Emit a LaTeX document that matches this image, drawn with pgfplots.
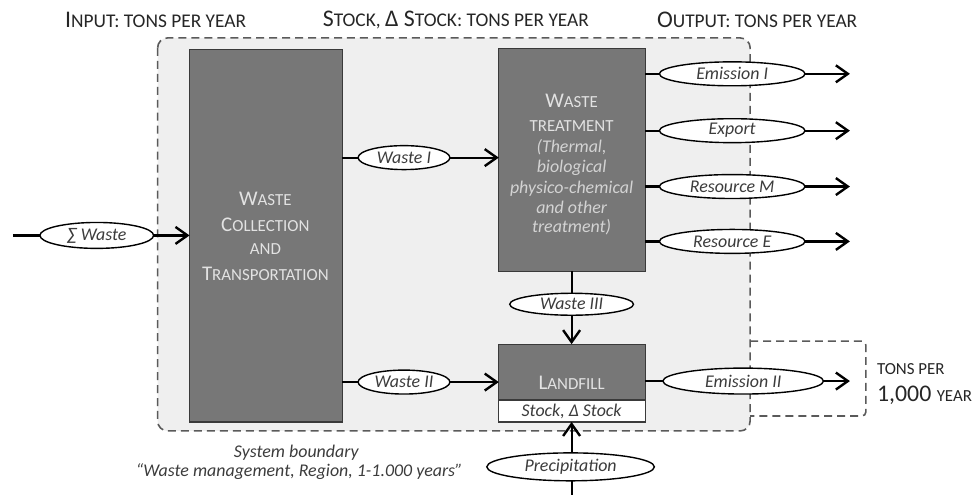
\documentclass[border=0pt]{standalone}
\usepackage{pgfplots}
\pgfplotsset{compat=1.18}
\usepackage{fontspec}
\setmainfont{Carlito}
\usetikzlibrary{arrows.meta,shapes.geometric}
\definecolor{boxfill}{HTML}{777777}
\definecolor{boxedge}{HTML}{3A3A3A}
\definecolor{boxtext}{HTML}{E2E2E2}
\definecolor{bg}{HTML}{EFEFEF}
\definecolor{dashc}{HTML}{5A5A5A}
\definecolor{txt}{HTML}{262626}
\definecolor{etxt}{HTML}{3C3C3C}
\newcommand{\Lg}{\fontsize{24}{27}\selectfont}
\newcommand{\Sm}{\fontsize{19.5}{22}\selectfont}
\newcommand{\bL}{\fontsize{21}{24}\selectfont}
\newcommand{\bS}{\fontsize{17}{20}\selectfont}
\newcommand{\iT}{\fontsize{18}{21}\selectfont\itshape}
\tikzset{
  flow/.style={line width=2.2bp, black},
  arr/.style={line width=2.2bp, black, -{Straight Barb[length=12bp, width=17bp, line width=2.4bp]}},
  oval/.style={ellipse, draw=black, line width=1.4bp, fill=white, inner sep=0pt, text=etxt, font=\iT},
  btxt/.style={text=boxtext, inner sep=0pt},
}
\begin{document}
\begin{tikzpicture}
\begin{axis}[scale only axis, width=972bp, height=496bp,
  xmin=0, xmax=972, ymin=0, ymax=496, y dir=reverse,
  hide axis, clip=false]
\path (axis cs:0,0) rectangle (axis cs:972,496);
% system boundary
\draw[dashc, line width=1.6bp, dash pattern=on 8bp off 5bp, fill=bg, rounded corners=10bp]
  (axis cs:158,38) rectangle (axis cs:752,432);
\draw[dashc, line width=1.6bp, dash pattern=on 8bp off 5bp, rounded corners=4bp]
  (axis cs:752,342) -- (axis cs:868,342) -- (axis cs:868,417) -- (axis cs:752,417);
% boxes
\draw[boxedge, line width=1.2bp, fill=boxfill] (axis cs:190,50) rectangle (axis cs:343,423);
\draw[boxedge, line width=1.2bp, fill=boxfill] (axis cs:500,49) rectangle (axis cs:647,272);
\draw[boxedge, line width=1.2bp, fill=boxfill] (axis cs:500,345) rectangle (axis cs:647,401);
\draw[boxedge, line width=1.2bp, fill=white] (axis cs:500,401) rectangle (axis cs:647,423);
% flows
\addplot[flow] coordinates {(13,236) (42,236)};
\addplot[arr] coordinates {(153,236) (190,236)};
\addplot[flow] coordinates {(343,158) (360,158)};
\addplot[arr] coordinates {(450,158) (500,158)};
\addplot[flow] coordinates {(343,383) (360,383)};
\addplot[arr] coordinates {(450,383) (500,383)};
\addplot[flow] coordinates {(647,74) (662,74)};
\addplot[arr] coordinates {(806,74) (852,74)};
\addplot[flow] coordinates {(647,131) (662,131)};
\addplot[arr] coordinates {(806,131) (852,131)};
\addplot[flow] coordinates {(647,187) (662,187)};
\addplot[arr] coordinates {(806,187) (852,187)};
\addplot[flow] coordinates {(647,242) (662,242)};
\addplot[arr] coordinates {(806,242) (852,242)};
\addplot[flow] coordinates {(573,272) (573,296)};
\addplot[arr] coordinates {(573,314) (573,345)};
\addplot[flow] coordinates {(647,382) (666,382)};
\addplot[arr] coordinates {(825,382) (852,382)};
\addplot[flow] coordinates {(573,496) (573,482)};
\addplot[arr] coordinates {(573,455) (573,423)};
% ovals
\node[oval, minimum width=114bp, minimum height=26bp] at (axis cs:97,236) {∑ Waste};
\node[oval, minimum width=92bp, minimum height=24bp] at (axis cs:405,158) {Waste I};
\node[oval, minimum width=92bp, minimum height=24bp] at (axis cs:405,383) {Waste II};
\node[oval, minimum width=146bp, minimum height=24bp] at (axis cs:734,74) {Emission I};
\node[oval, minimum width=146bp, minimum height=24bp] at (axis cs:734,131) {Export};
\node[oval, minimum width=146bp, minimum height=24bp] at (axis cs:734,187) {Resource M};
\node[oval, minimum width=146bp, minimum height=24bp] at (axis cs:734,242) {Resource E};
\node[oval, minimum width=124bp, minimum height=22bp] at (axis cs:573,305) {Waste III};
\node[oval, minimum width=161bp, minimum height=26bp] at (axis cs:745,382) {Emission II};
\node[oval, minimum width=168bp, minimum height=28bp] at (axis cs:572,468) {Precipitation};
% box texts
\node[btxt] at (axis cs:266,199) {{\bL W}{\bS ASTE}};
\node[btxt] at (axis cs:266,225) {{\bL C}{\bS OLLECTION}};
\node[btxt] at (axis cs:266,250) {{\bS AND}};
\node[btxt] at (axis cs:266,275) {{\bL T}{\bS RANSPORTATION}};
\node[btxt] at (axis cs:573,101) {{\bL W}{\bS ASTE}};
\node[btxt] at (axis cs:573,126) {{\bS TREATMENT}};
\node[btxt, font=\iT, text=boxtext!85!gray] at (axis cs:573,148) {(Thermal,};
\node[btxt, font=\iT, text=boxtext!85!gray] at (axis cs:573,168) {biological};
\node[btxt, font=\iT, text=boxtext!85!gray] at (axis cs:573,189) {physico-chemical};
\node[btxt, font=\iT, text=boxtext!85!gray] at (axis cs:573,208) {and other};
\node[btxt, font=\iT, text=boxtext!85!gray] at (axis cs:573,228) {treatment)};
\node[btxt] at (axis cs:573,384) {{\bL L}{\bS ANDFILL}};
\node[inner sep=0pt, text=etxt, font=\iT] at (axis cs:573,412) {Stock, Δ Stock};
% header labels
\node[inner sep=0pt, text=txt] at (axis cs:156,20) {{\Lg I}{\Sm NPUT: TONS PER YEAR}};
\node[inner sep=0pt, text=txt] at (axis cs:457,20) {{\Lg S}{\Sm TOCK, }{\Lg Δ S}{\Sm TOCK: TONS PER YEAR}};
\node[inner sep=0pt, text=txt] at (axis cs:759,20) {{\Lg O}{\Sm UTPUT: TONS PER YEAR}};
\node[inner sep=0pt, text=txt, anchor=west] at (axis cs:879,370) {{\bS TONS PER}};
\node[inner sep=0pt, text=txt, anchor=west] at (axis cs:879,396) {{\Lg 1,000 }{\bS YEAR}};
% boundary caption
\node[inner sep=0pt, text=etxt, font=\fontsize{18}{21}\selectfont\itshape] at (axis cs:297,454) {System boundary};
\node[inner sep=0pt, text=etxt, font=\fontsize{18}{21}\selectfont\itshape] at (axis cs:300,473) {“Waste management, Region, 1-1.000 years”};
\end{axis}
\end{tikzpicture}
\end{document}
